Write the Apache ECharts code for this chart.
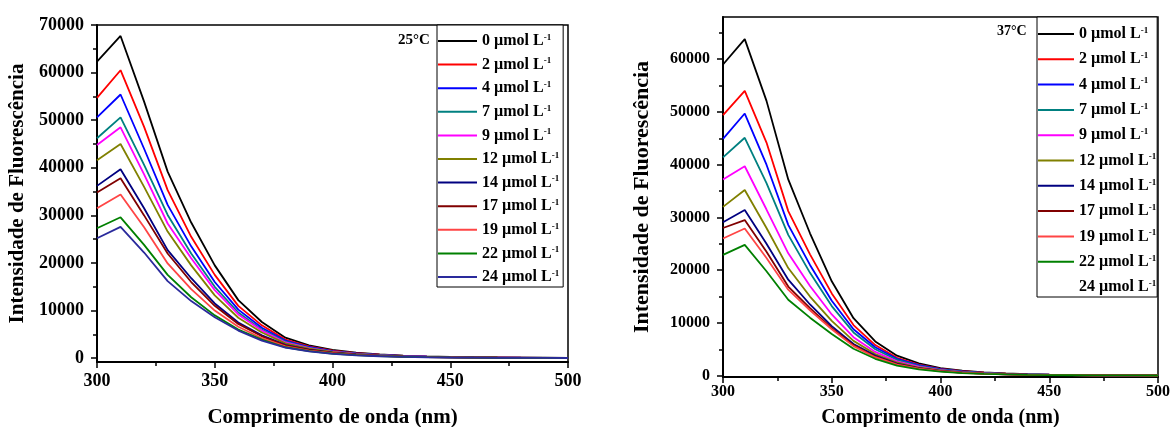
<!DOCTYPE html>
<html>
<head>
<meta charset="utf-8">
<script src="https://cdn.jsdelivr.net/npm/echarts@6.0.0/dist/echarts.min.js"></script>
<style>
html,body{margin:0;padding:0;background:#fff;}
#chart{width:1171px;height:427px;}
</style>
</head>
<body>
<div id="chart"></div>
<script>
// ---- data ----
const wavelengths = [300,310,320,330,340,350,360,370,380,390,400,410,420,430,440,450,460,470,480,490,500];
const concentrations = ['0','2','4','7','9','12','14','17','19','22','24'];
const seriesColors = ['#000000','#ff0000','#0000ff','#008080','#ff00ff','#808000','#000080','#800000','#ff4545','#008000','#2a2a9c'];
const yTicksLeft = [0,10000,20000,30000,40000,50000,60000,70000];
const yTicksRight = [0,10000,20000,30000,40000,50000,60000];
const yMinorTicks = [5000,15000,25000,35000,45000,55000,65000];

// 25 °C
const left0  = [62300,67700,53900,39200,28500,19500,12200,7600,4300,2700,1750,1150,780,540,380,280,210,160,120,90,70];
const left2  = [54700,60500,48600,35300,25500,17500,11000,6900,3900,2500,1600,1050,720,500,350,260,190,150,110,85,65];
const left4  = [50600,55400,44000,32200,23500,16000,10200,6400,3700,2350,1500,1000,680,470,330,245,180,140,105,80,60];
const left7  = [46200,50600,40600,30100,22000,15000,9600,6000,3500,2200,1400,950,640,440,310,230,170,130,100,75,55];
const left9  = [44800,48500,38600,28300,21000,14300,9200,5800,3300,2100,1350,900,610,420,300,220,165,125,95,70,55];
const left12 = [41600,45000,36000,26600,19500,13200,8500,5400,3100,2000,1300,850,580,400,280,210,155,120,90,70,50];
const left14 = [36200,39700,31500,22700,16800,11500,7500,4800,2800,1800,1150,780,530,370,260,195,145,110,85,65,50];
const left17 = [34800,37800,30000,22000,16000,11000,7200,4600,2700,1750,1100,740,500,350,250,185,140,105,80,60,45];
const left19 = [31500,34400,27500,19900,14500,10000,6600,4200,2500,1600,1050,700,470,330,230,175,130,100,75,55,40];
const left22 = [27300,29600,23800,17500,12800,9000,6000,3900,2300,1500,950,640,430,300,210,160,120,90,70,50,40];
const left24 = [25200,27600,22200,16200,12000,8600,5800,3700,2200,1450,900,600,410,290,200,150,115,85,65,50,40];

// 37 °C
const right0  = [59000,63800,52100,37200,27000,17900,10900,6500,3800,2350,1450,950,620,420,290,200,150,110,85,65,50];
const right2  = [49400,54000,44200,31200,23000,15600,9600,5800,3400,2100,1300,850,560,380,260,185,135,100,80,60,45];
const right4  = [44900,49700,40000,28600,21000,14200,8800,5400,3200,2000,1250,800,530,360,250,175,130,95,75,55,45];
const right7  = [41400,45100,36500,26700,19500,13200,8200,5000,3000,1850,1150,750,490,330,230,165,120,90,70,50,40];
const right9  = [37200,39700,31500,23200,17000,11600,7300,4500,2700,1700,1050,690,450,310,210,150,110,85,65,50,40];
const right12 = [32000,35200,28000,20400,15000,10400,6600,4100,2500,1550,980,640,420,290,200,145,105,80,60,45,35];
const right14 = [29100,31400,25000,18200,13500,9400,6000,3800,2300,1450,920,600,400,270,190,135,100,75,60,45,35];
const right17 = [28000,29500,23500,16900,12800,9000,5800,3600,2200,1400,880,580,380,260,180,130,95,70,55,40,30];
const right19 = [26000,27900,22300,16300,12400,8800,5600,3500,2100,1350,850,560,370,250,170,125,90,70,55,40,30];
const right22 = [22900,24800,19800,14400,11000,7900,5100,3200,1900,1200,760,500,330,230,160,115,85,65,50,40,30];
const right24 = []; // legend entry only, no curve drawn in the original

const leftData  = [left0,left2,left4,left7,left9,left12,left14,left17,left19,left22,left24];
const rightData = [right0,right2,right4,right7,right9,right12,right14,right17,right19,right22,right24];

// ---- chart ----
const FONT = "'Liberation Serif','Times New Roman',serif";
const chart = echarts.init(document.getElementById('chart'), null, {renderer:'canvas'});

function pairs(arr){ return arr.map((v,i)=>[wavelengths[i], v]); }

function makeSeries(prefix, dataArr, xIdx, yIdx){
  return dataArr.map((arr,i)=>({
    name: prefix + concentrations[i],
    type: 'line',
    xAxisIndex: xIdx, yAxisIndex: yIdx,
    data: pairs(arr),
    showSymbol: false, symbol: 'none',
    animation: false,
    lineStyle: {width: 1.8, color: arr.length ? seriesColors[i] : 'rgba(0,0,0,0)'},
    itemStyle: {color: arr.length ? seriesColors[i] : 'rgba(0,0,0,0)'},
    z: 2 + i
  }));
}

const labelStyle = {fontFamily: FONT, fontWeight: 'bold', color: '#000'};

function xAxisDef(gridIndex, fs, margin, nameGap, nameFs){
  return {
    type: 'value', gridIndex, min: 300, max: 500, interval: 50,
    axisLine: {show: true, onZero: false, lineStyle: {color: '#000', width: 2}},
    axisTick: {show: true, length: 6, lineStyle: {color: '#000', width: 1.5}},
    minorTick: {show: true, splitNumber: 2, length: 4, lineStyle: {color: '#000', width: 1.5}},
    splitLine: {show: false},
    axisLabel: Object.assign({fontSize: fs, margin, formatter: v => String(v)}, labelStyle),
    name: 'Comprimento de onda (nm)', nameLocation: 'middle', nameGap,
    nameTextStyle: Object.assign({fontSize: nameFs}, labelStyle)
  };
}
function yAxisDef(gridIndex, min, max, ticks, fs, margin, nameGap, nameFs){
  return {
    type: 'value', gridIndex, min, max,
    axisLine: {show: true, onZero: false, lineStyle: {color: '#000', width: 2}},
    axisTick: {show: true, length: 6, customValues: ticks, lineStyle: {color: '#000', width: 1.5}},
    splitLine: {show: false},
    axisLabel: Object.assign({fontSize: fs, margin, customValues: ticks, formatter: v => String(v)}, labelStyle),
    name: 'Intensidade de Fluorescência', nameLocation: 'middle', nameGap, nameRotate: 90,
    nameTextStyle: Object.assign({fontSize: nameFs}, labelStyle)
  };
}
function yMinorDef(gridIndex, min, max){
  return {
    type: 'value', gridIndex, min, max, position: 'left',
    axisLine: {show: false},
    axisTick: {show: true, length: 4, customValues: yMinorTicks, lineStyle: {color: '#000', width: 1.5}},
    axisLabel: {show: false}, splitLine: {show: false}
  };
}

function legendDef(prefix, left, top, pad, gap, iconW){
  return {
    orient: 'vertical', left, top,
    data: concentrations.map(c => prefix + c),
    padding: pad, itemGap: gap, itemWidth: iconW, itemHeight: 2,
    icon: 'rect',
    backgroundColor: '#fff',
    borderColor: '#000', borderWidth: 1,
    selectedMode: false,
    formatter: n => '{t|' + n.slice(2) + ' µmol L}{s|-1}',
    textStyle: {
      color: '#000',
      rich: {
        t: {fontFamily: FONT, fontWeight: 'bold', fontSize: 16, lineHeight: 16, color: '#000'},
        s: {fontFamily: FONT, fontWeight: 'bold', fontSize: 9, lineHeight: 16, verticalAlign: 'top', color: '#000'}
      }
    }
  };
}

const option = {
  backgroundColor: '#fff',
  animation: false,
  grid: [
    {left: 97, top: 25, width: 471, height: 337, outerBoundsMode: 'none', containLabel: false, show: true, borderColor: '#000', borderWidth: 1.5, backgroundColor: 'transparent'},
    {left: 723, top: 17, width: 435, height: 360, outerBoundsMode: 'none', containLabel: false, show: true, borderColor: '#000', borderWidth: 1.5, backgroundColor: 'transparent'}
  ],
  xAxis: [
    xAxisDef(0, 18, 10, 45, 21),
    xAxisDef(1, 16, 7, 31, 20)
  ],
  yAxis: [
    yAxisDef(0, -800, 70000, yTicksLeft, 18, 13, 69, 21),
    yMinorDef(0, -800, 70000),
    yAxisDef(1, -250, 68000, yTicksRight, 16, 13, 70, 22),
    yMinorDef(1, -250, 68000)
  ],
  legend: [
    legendDef('L:', 437, 25, [8, 4, 2, 1], 7.6, 39),
    legendDef('R:', 1037, 17, [9, 1, 2, 1], 9.3, 36)
  ],
  graphic: [
    {type: 'text', left: 398, top: 33, style: {text: '25°C', fontFamily: FONT, fontWeight: 'bold', fontSize: 15, fill: '#000'}},
    {type: 'text', left: 997, top: 24, style: {text: '37°C', fontFamily: FONT, fontWeight: 'bold', fontSize: 14, fill: '#000'}}
  ],
  series: [].concat(
    makeSeries('L:', leftData, 0, 0),
    makeSeries('R:', rightData, 1, 2)
  )
};
chart.setOption(option);
</script>
</body>
</html>
